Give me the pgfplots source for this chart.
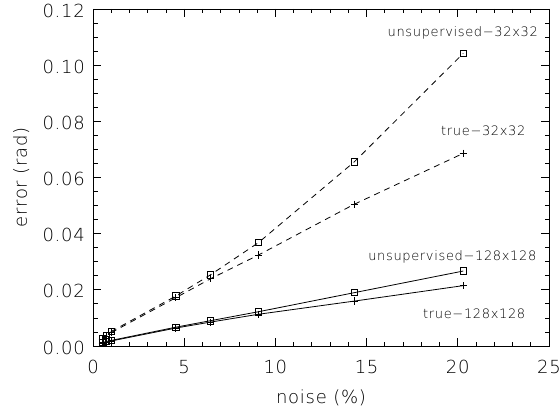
\documentclass[border=0pt]{standalone}
\usepackage{pgfplots}
\pgfplotsset{compat=1.18}
\usepackage{fontspec}
\setmainfont{DejaVu Sans ExtraLight}
\newfontfamily\tickfont[LetterSpace=4]{DejaVu Sans ExtraLight}
\newfontfamily\labfont[LetterSpace=5]{DejaVu Sans ExtraLight}
\pgfplotstableread{
x      us32    tr32    us128   tr128
0.51   0.0026  0.0024  0.0012  0.0010
0.72   0.0037  0.0035  0.0016  0.0014
1.01   0.0052  0.0048  0.0020  0.0018
4.54   0.0178  0.0172  0.0067  0.0064
6.43   0.0253  0.0239  0.0090  0.0085
9.07   0.0368  0.0324  0.0122  0.0113
14.33  0.0656  0.0505  0.0190  0.0160
20.30  0.1042  0.0686  0.0267  0.0215
}\data
\begin{document}
\begin{tikzpicture}[x=1bp,y=1bp]
\path[use as bounding box] (0,0) rectangle (559,409);
\begin{axis}[
  at={(93bp,63bp)}, anchor=south west,
  scale only axis, width=456bp, height=337bp,
  xmin=0, xmax=25, ymin=0, ymax=0.12,
  xtick={0,5,10,15,20,25},
  ytick={0,0.02,0.04,0.06,0.08,0.10,0.12},
  minor x tick num=4, minor y tick num=3,
  tick align=inside,
  major tick length=8bp, minor tick length=4.5bp,
  axis line style={line width=0.8bp, black},
  every tick/.style={line width=0.8bp, black},
  /pgf/number format/assume math mode=true,
  yticklabel style={/pgf/number format/fixed, /pgf/number format/fixed zerofill, /pgf/number format/precision=2},
  scaled y ticks=false,
  ticklabel style={font=\tickfont\fontsize{18bp}{20bp}\selectfont, black},
  xticklabel style={inner sep=0pt, anchor=north, yshift=-14bp},
  yticklabel style={inner sep=0pt, anchor=east, xshift=-8bp, yshift=-1.5bp},
  xlabel={noise (\%)},
  label style={font=\tickfont\fontsize{18bp}{20bp}\selectfont, black},
  xlabel style={inner sep=0pt, at={(axis description cs:0.5,0)}, anchor=base, yshift=-57bp},
  clip=false,
]
\addplot[black, line width=0.8bp, dash pattern=on 6bp off 5bp, mark=square, mark size=3.2bp, mark options={solid}] table[x=x, y=us32] {\data};
\addplot[black, line width=0.8bp, dash pattern=on 6bp off 5bp, mark=+, mark size=3.6bp, mark options={solid}] table[x=x, y=tr32] {\data};
\addplot[black, line width=0.8bp, mark=square, mark size=3.2bp] table[x=x, y=us128] {\data};
\addplot[black, line width=0.8bp, mark=+, mark size=3.6bp] table[x=x, y=tr128] {\data};
\node[font=\labfont\fontsize{13bp}{15bp}\selectfont, black] at (axis cs:20.27,0.1115) {unsupervised\textminus 32x32};
\node[font=\labfont\fontsize{13bp}{15bp}\selectfont, black] at (axis cs:21.4,0.0766) {true\textminus 32x32};
\node[font=\labfont\fontsize{13bp}{15bp}\selectfont, black] at (axis cs:19.7,0.0317) {unsupervised\textminus 128x128};
\node[font=\labfont\fontsize{13bp}{15bp}\selectfont, black] at (axis cs:20.9,0.0114) {true\textminus 128x128};
\node[font=\tickfont\fontsize{18bp}{20bp}\selectfont, black, inner sep=0pt, xshift=-66bp, rotate=90, anchor=base] at (rel axis cs:0,0.5) {error (rad)};
\end{axis}
\end{tikzpicture}
\end{document}
